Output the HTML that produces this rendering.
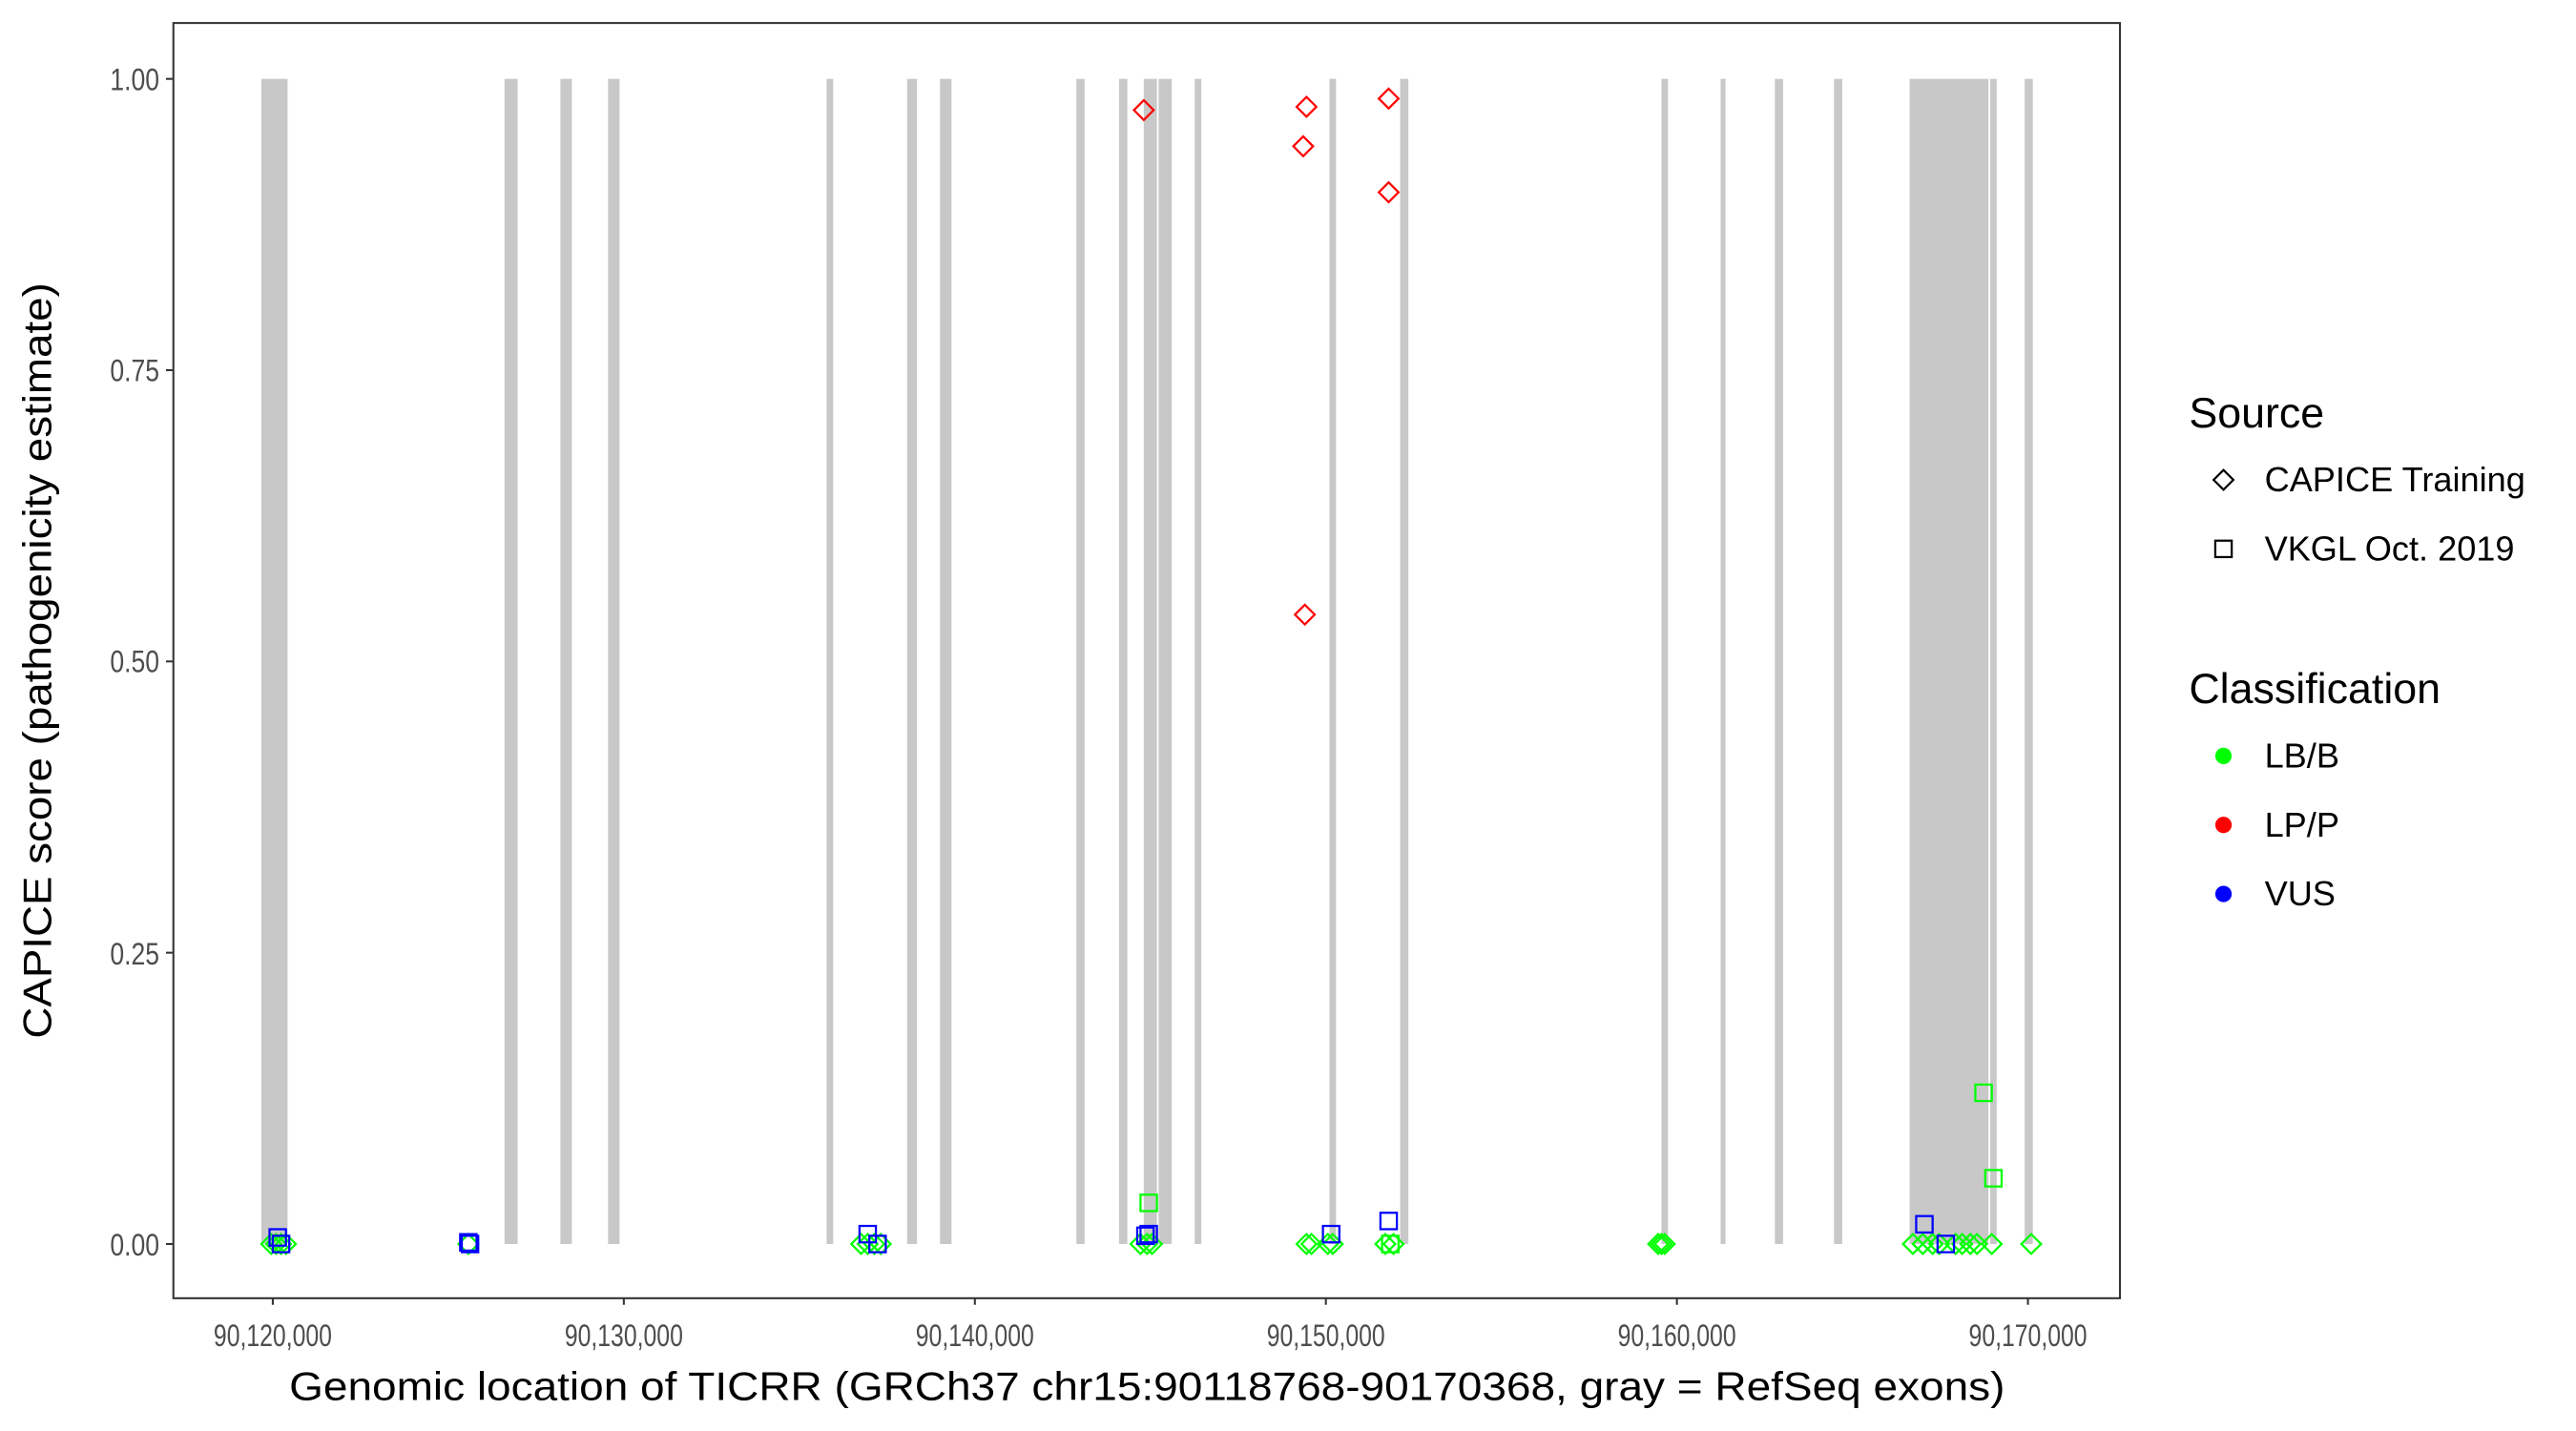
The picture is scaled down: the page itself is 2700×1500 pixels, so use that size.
<!DOCTYPE html>
<html><head><meta charset="utf-8"><style>html,body{margin:0;padding:0;background:#fff}svg{display:block}</style></head>
<body>
<svg width="2700" height="1500" viewBox="0 0 1567.5 870.8" preserveAspectRatio="none" xmlns="http://www.w3.org/2000/svg" font-family="Liberation Sans, sans-serif">
<rect width="1567.5" height="870.8" fill="#fff"/>
<g fill="#c8c8c8">
<rect x="159" y="48" width="16" height="709"/>
<rect x="307" y="48" width="8" height="709"/>
<rect x="341" y="48" width="7" height="709"/>
<rect x="370" y="48" width="7" height="709"/>
<rect x="503" y="48" width="4" height="709"/>
<rect x="552" y="48" width="6" height="709"/>
<rect x="572" y="48" width="7" height="709"/>
<rect x="655" y="48" width="5" height="709"/>
<rect x="681" y="48" width="5" height="709"/>
<rect x="696" y="48" width="8" height="709"/>
<rect x="705" y="48" width="8" height="709"/>
<rect x="727" y="48" width="4" height="709"/>
<rect x="809" y="48" width="4" height="709"/>
<rect x="852" y="48" width="5" height="709"/>
<rect x="1011" y="48" width="4" height="709"/>
<rect x="1047" y="48" width="3" height="709"/>
<rect x="1080" y="48" width="5" height="709"/>
<rect x="1116" y="48" width="5" height="709"/>
<rect x="1162" y="48" width="48" height="709"/>
<rect x="1211" y="48" width="4" height="709"/>
<rect x="1232" y="48" width="5" height="709"/>
</g>
<g fill="none" stroke-width="1.3">
<g stroke="#00ff00">
<path d="M0,-6 L6,0 L0,6 L-6,0Z" transform="translate(165,757)"/>
<path d="M0,-6 L6,0 L0,6 L-6,0Z" transform="translate(168,757)"/>
<path d="M0,-6 L6,0 L0,6 L-6,0Z" transform="translate(171,757)"/>
<path d="M0,-6 L6,0 L0,6 L-6,0Z" transform="translate(174,757)"/>
<path d="M0,-6 L6,0 L0,6 L-6,0Z" transform="translate(285,757)"/>
<path d="M0,-6 L6,0 L0,6 L-6,0Z" transform="translate(524,757)"/>
<path d="M0,-6 L6,0 L0,6 L-6,0Z" transform="translate(528,757)"/>
<path d="M0,-6 L6,0 L0,6 L-6,0Z" transform="translate(532,757)"/>
<path d="M0,-6 L6,0 L0,6 L-6,0Z" transform="translate(536,757)"/>
<path d="M0,-6 L6,0 L0,6 L-6,0Z" transform="translate(694,757)"/>
<path d="M0,-6 L6,0 L0,6 L-6,0Z" transform="translate(698,757)"/>
<path d="M0,-6 L6,0 L0,6 L-6,0Z" transform="translate(701,757)"/>
<path d="M0,-6 L6,0 L0,6 L-6,0Z" transform="translate(795,757)"/>
<path d="M0,-6 L6,0 L0,6 L-6,0Z" transform="translate(798,757)"/>
<path d="M0,-6 L6,0 L0,6 L-6,0Z" transform="translate(808,757)"/>
<path d="M0,-6 L6,0 L0,6 L-6,0Z" transform="translate(811,757)"/>
<path d="M0,-6 L6,0 L0,6 L-6,0Z" transform="translate(843,757)"/>
<path d="M0,-6 L6,0 L0,6 L-6,0Z" transform="translate(848,757)"/>
<path d="M0,-6 L6,0 L0,6 L-6,0Z" transform="translate(1009,757)"/>
<path d="M0,-6 L6,0 L0,6 L-6,0Z" transform="translate(1011,757)"/>
<path d="M0,-6 L6,0 L0,6 L-6,0Z" transform="translate(1013,757)"/>
<path d="M0,-6 L6,0 L0,6 L-6,0Z" transform="translate(1164,757)"/>
<path d="M0,-6 L6,0 L0,6 L-6,0Z" transform="translate(1170,757)"/>
<path d="M0,-6 L6,0 L0,6 L-6,0Z" transform="translate(1176,757)"/>
<path d="M0,-6 L6,0 L0,6 L-6,0Z" transform="translate(1180,757)"/>
<path d="M0,-6 L6,0 L0,6 L-6,0Z" transform="translate(1190,757)"/>
<path d="M0,-6 L6,0 L0,6 L-6,0Z" transform="translate(1194,757)"/>
<path d="M0,-6 L6,0 L0,6 L-6,0Z" transform="translate(1199,757)"/>
<path d="M0,-6 L6,0 L0,6 L-6,0Z" transform="translate(1203,757)"/>
<path d="M0,-6 L6,0 L0,6 L-6,0Z" transform="translate(1212,757)"/>
<path d="M0,-6 L6,0 L0,6 L-6,0Z" transform="translate(1236,757)"/>
<rect x="694" y="727" width="10" height="10"/>
<rect x="1202" y="660" width="10" height="10"/>
<rect x="1208" y="712" width="10" height="10"/>
<rect x="841" y="752" width="10" height="10"/>
</g>
<g stroke="#ff0000">
<path d="M0,-6 L6,0 L0,6 L-6,0Z" transform="translate(696,67)"/>
<path d="M0,-6 L6,0 L0,6 L-6,0Z" transform="translate(795,65)"/>
<path d="M0,-6 L6,0 L0,6 L-6,0Z" transform="translate(793,89)"/>
<path d="M0,-6 L6,0 L0,6 L-6,0Z" transform="translate(845,60)"/>
<path d="M0,-6 L6,0 L0,6 L-6,0Z" transform="translate(845,117)"/>
<path d="M0,-6 L6,0 L0,6 L-6,0Z" transform="translate(794,374)"/>
</g>
<g stroke="#0000ff">
<rect x="164" y="748" width="10" height="10"/>
<rect x="166" y="752" width="10" height="10"/>
<rect x="280" y="751" width="10" height="10"/>
<rect x="281" y="752" width="10" height="10"/>
<rect x="523" y="746" width="10" height="10"/>
<rect x="529" y="752" width="10" height="10"/>
<rect x="692" y="747" width="10" height="10"/>
<rect x="694" y="746" width="10" height="10"/>
<rect x="805" y="746" width="10" height="10"/>
<rect x="840" y="738" width="10" height="10"/>
<rect x="1166" y="740" width="10" height="10"/>
<rect x="1179" y="752" width="10" height="10"/>
</g>
</g>
<rect x="105.5" y="14" width="1184.5" height="776" fill="none" stroke="#333" stroke-width="1.2"/>
<g stroke="#333" stroke-width="1.2">
<line x1="101" x2="105" y1="48" y2="48"/><line x1="101" x2="105" y1="225.25" y2="225.25"/><line x1="101" x2="105" y1="402.5" y2="402.5"/><line x1="101" x2="105" y1="579.75" y2="579.75"/><line x1="101" x2="105" y1="757" y2="757"/>
<line x1="166" x2="166" y1="790" y2="794"/><line x1="379.6" x2="379.6" y1="790" y2="794"/><line x1="593.2" x2="593.2" y1="790" y2="794"/><line x1="806.8" x2="806.8" y1="790" y2="794"/><line x1="1020.4" x2="1020.4" y1="790" y2="794"/><line x1="1234" x2="1234" y1="790" y2="794"/>
</g>
<g fill="#4d4d4d" font-size="19" text-anchor="end">
<text x="97" y="55" textLength="30" lengthAdjust="spacingAndGlyphs">1.00</text><text x="97" y="232" textLength="30" lengthAdjust="spacingAndGlyphs">0.75</text><text x="97" y="409" textLength="30" lengthAdjust="spacingAndGlyphs">0.50</text><text x="97" y="587" textLength="30" lengthAdjust="spacingAndGlyphs">0.25</text><text x="97" y="764" textLength="30" lengthAdjust="spacingAndGlyphs">0.00</text>
</g>
<g fill="#4d4d4d" font-size="19" text-anchor="middle">
<text x="166" y="819" textLength="72" lengthAdjust="spacingAndGlyphs">90,120,000</text><text x="379.6" y="819" textLength="72" lengthAdjust="spacingAndGlyphs">90,130,000</text><text x="593.2" y="819" textLength="72" lengthAdjust="spacingAndGlyphs">90,140,000</text><text x="806.8" y="819" textLength="72" lengthAdjust="spacingAndGlyphs">90,150,000</text><text x="1020.4" y="819" textLength="72" lengthAdjust="spacingAndGlyphs">90,160,000</text><text x="1234" y="819" textLength="72" lengthAdjust="spacingAndGlyphs">90,170,000</text>
</g>
<text x="698" y="852" font-size="24" text-anchor="middle" fill="#000" textLength="1044" lengthAdjust="spacingAndGlyphs">Genomic location of TICRR (GRCh37 chr15:90118768-90170368, gray = RefSeq exons)</text>
<text transform="translate(31,402) rotate(-90)" font-size="24" text-anchor="middle" fill="#000" textLength="460" lengthAdjust="spacingAndGlyphs">CAPICE score (pathogenicity estimate)</text>
<g fill="#000">
<text x="1332" y="260" font-size="26">Source</text>
<path d="M1353,286 L1359,292 L1353,298 L1347,292Z" fill="none" stroke="#000" stroke-width="1.3"/>
<text x="1378" y="299" font-size="21">CAPICE Training</text>
<rect x="1348" y="329" width="10" height="10" fill="none" stroke="#000" stroke-width="1.3"/>
<text x="1378" y="341" font-size="21">VKGL Oct. 2019</text>
<text x="1332" y="428" font-size="26">Classification</text>
<circle cx="1353" cy="460" r="5" fill="#00ff00"/><text x="1378" y="467" font-size="21">LB/B</text>
<circle cx="1353" cy="502" r="5" fill="#ff0000"/><text x="1378" y="509" font-size="21">LP/P</text>
<circle cx="1353" cy="544" r="5" fill="#0000ff"/><text x="1378" y="551" font-size="21">VUS</text>
</g>
</svg>
</body></html>
